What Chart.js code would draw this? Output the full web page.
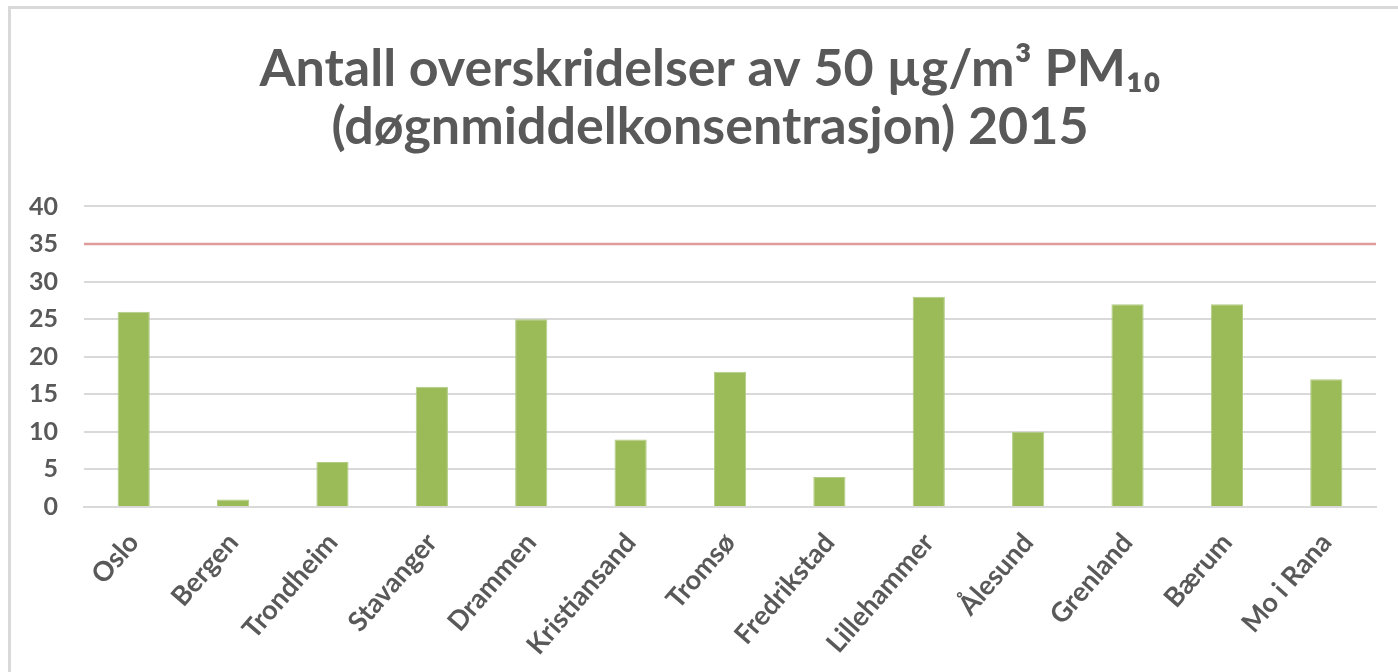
<!DOCTYPE html>
<html>
<head>
<meta charset="utf-8">
<script src="https://cdn.jsdelivr.net/npm/chart.js@4"></script>
<style>
  html, body { margin: 0; padding: 0; background: #fff; overflow: hidden; }
  .frame {
    position: absolute; left: 8px; top: 6px; width: 1420px; height: 700px;
    border: 3px solid #d9d9d9; box-sizing: border-box;
  }
  .wrap { position: absolute; left: 0; top: 0; width: 1398px; height: 672px; }
</style>
</head>
<body>
<div class="frame"></div>
<div class="wrap"><canvas id="pm10-chart"></canvas></div>
<script>
const cities = ['Oslo', 'Bergen', 'Trondheim', 'Stavanger', 'Drammen', 'Kristiansand', 'Tromsø',
    'Fredrikstad', 'Lillehammer', 'Ålesund', 'Grenland', 'Bærum', 'Mo i Rana'];
const exceedances = [26, 1, 6, 16, 25, 9, 18, 4, 28, 10, 27, 27, 17];
const limitValue = 35;
const titleLines = ['Antall overskridelser av 50 µg/m³ PM₁₀', '(døgnmiddelkonsentrasjon) 2015'];

const textColor = '#595959';
const fontFamily = 'Lato, "Open Sans", sans-serif';

const limitLine = {
    id: 'limitLine',
    // nudge the title box so it is centred a bit right of the canvas middle, like the original
    afterLayout(chart) {
        if (chart.titleBlock) chart.titleBlock.left = 44;
    },
    afterDatasetsDraw(chart) {
        const { ctx, chartArea, scales } = chart;
        const y = scales.y.getPixelForValue(limitValue);
        ctx.save();
        ctx.strokeStyle = '#de9d9c';
        ctx.lineWidth = 2.5;
        ctx.beginPath();
        ctx.moveTo(chartArea.left, y);
        ctx.lineTo(chartArea.right, y);
        ctx.stroke();
        ctx.restore();
    },
};

const buildChart = () => {
    const ctx = document.getElementById('pm10-chart');
    if (!ctx || typeof Chart === 'undefined') return;
    new Chart(ctx, {
        type: 'bar',
        data: {
            labels: cities,
            datasets: [{
                label: 'Overskridelser',
                data: exceedances,
                backgroundColor: '#9bbb59',
                borderColor: '#b3cc85',
                borderWidth: 1,
                barPercentage: 0.54,
                categoryPercentage: 0.6,
            }],
        },
        options: {
            responsive: true,
            maintainAspectRatio: false,
            animation: false,
            layout: { padding: { left: 0, right: 22, top: 40, bottom: 0 } },
            plugins: {
                legend: { display: false },
                tooltip: { enabled: false },
                title: {
                    display: true,
                    text: titleLines,
                    color: textColor,
                    font: { family: fontFamily, size: 52, weight: 'bold', lineHeight: 1.12 },
                    padding: { top: 0, bottom: 50 },
                },
            },
            scales: {
                y: {
                    min: 0,
                    max: 40,
                    ticks: {
                        stepSize: 5,
                        color: textColor,
                        padding: 26,
                        font: { family: fontFamily, size: 25, weight: 'bold' },
                    },
                    grid: { color: '#d9d9d9', lineWidth: 2, drawTicks: false },
                    border: { display: false },
                    afterFit: (scale) => { scale.width = 84; },
                },
                x: {
                    ticks: {
                        color: textColor,
                        minRotation: 49,
                        maxRotation: 49,
                        padding: 12,
                        font: { family: fontFamily, size: 27, weight: 'bold' },
                    },
                    grid: { display: false },
                    border: { color: '#d9d9d9', width: 2 },
                    afterFit: (scale) => { scale.height = 165; },
                },
            },
        },
        plugins: [limitLine],
    });
};

buildChart();
</script>
</body>
</html>
